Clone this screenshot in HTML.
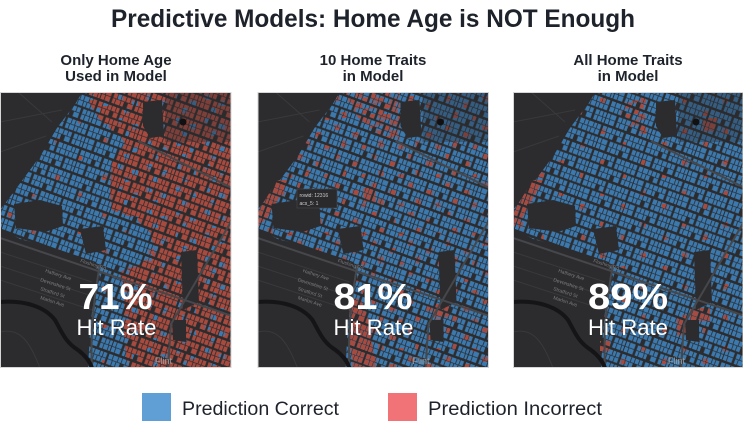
<!DOCTYPE html>
<html><head><meta charset="utf-8">
<style>
html,body{margin:0;padding:0;background:#fff;}
svg{display:block;font-family:"Liberation Sans",sans-serif;}
</style></head>
<body>
<svg width="743" height="424" viewBox="0 0 743 424" xmlns="http://www.w3.org/2000/svg">
<defs>
  <g id="houses">
    <!-- block A row 1 -->
    <rect x=".5" y=".5" width="4" height="5"/><rect x="5.3" y=".5" width="4.7" height="5"/>
    <rect x="10.8" y=".5" width="3.2" height="5"/><rect x="14.8" y=".5" width="3.7" height="5"/>
    <rect x="19.3" y=".5" width="3" height="5"/><rect x="24.8" y=".5" width="4.2" height="5"/>
    <rect x="29.8" y=".5" width="3.2" height="5"/><rect x="33.8" y=".5" width="4.7" height="5"/>
    <rect x="39.3" y=".5" width="2.7" height="5"/><rect x="42.8" y=".5" width="3.5" height="5"/>
    <!-- block A row 2 -->
    <rect x=".5" y="6.2" width="4.5" height="5"/><rect x="5.8" y="6.2" width="3.2" height="5"/>
    <rect x="9.8" y="6.2" width="3.7" height="5"/><rect x="17.8" y="6.2" width="4.5" height="5"/>
    <rect x="24.8" y="6.2" width="3.2" height="5"/><rect x="28.8" y="6.2" width="4.7" height="5"/>
    <rect x="34.3" y="6.2" width="2.7" height="5"/><rect x="37.8" y="6.2" width="3.7" height="5"/>
    <rect x="42.3" y="6.2" width="4" height="5"/>
    <!-- block B row 1 -->
    <rect x=".5" y="13.3" width="3" height="5"/><rect x="4.3" y="13.3" width="5.5" height="5"/>
    <rect x="12.3" y="13.3" width="3.7" height="5"/><rect x="16.8" y="13.3" width="3.2" height="5"/>
    <rect x="20.8" y="13.3" width="4.2" height="5"/><rect x="25.8" y="13.3" width="3.7" height="5"/>
    <rect x="30.3" y="13.3" width="3.5" height="5"/><rect x="36.3" y="13.3" width="3.7" height="5"/>
    <rect x="40.8" y="13.3" width="3.2" height="5"/><rect x="44.8" y="13.3" width="2.7" height="5"/>
    <!-- block B row 2 -->
    <rect x=".5" y="19" width="3.5" height="5"/><rect x="4.8" y="19" width="5" height="5"/>
    <rect x="12.3" y="19" width="2.7" height="5"/><rect x="15.8" y="19" width="4.7" height="5"/>
    <rect x="21.3" y="19" width="2.7" height="5"/><rect x="28.3" y="19" width="5.5" height="5"/>
    <rect x="36.3" y="19" width="3.2" height="5"/><rect x="40.3" y="19" width="4.2" height="5"/>
    <rect x="45.3" y="19" width="2.2" height="5"/>
  </g>
  <pattern id="pb" width="48" height="26" patternUnits="userSpaceOnUse" patternTransform="rotate(20)">
    <use href="#houses" fill="#3b79ae"/>
  </pattern>
  <pattern id="pr" width="48" height="26" patternUnits="userSpaceOnUse" patternTransform="rotate(20)">
    <use href="#houses" fill="#a94a3f"/>
  </pattern>
  <!-- mask dot patterns -->
  <pattern id="md10" width="37" height="29" patternUnits="userSpaceOnUse">
    <g fill="#fff"><rect x="3" y="4" width="5" height="5"/><rect x="21" y="11" width="6" height="5"/>
    <rect x="10" y="20" width="5" height="6"/><rect x="30" y="24" width="5" height="4"/></g>
  </pattern>
  <pattern id="md5" width="41" height="31" patternUnits="userSpaceOnUse">
    <g fill="#fff"><rect x="5" y="6" width="5" height="5"/><rect x="26" y="19" width="5" height="5"/></g>
  </pattern>
  <pattern id="md3" width="47" height="37" patternUnits="userSpaceOnUse">
    <g fill="#fff"><rect x="8" y="9" width="5" height="5"/><rect x="31" y="27" width="4" height="4"/></g>
  </pattern>
  <pattern id="md50" width="14" height="11" patternUnits="userSpaceOnUse">
    <g fill="#fff"><rect x="0" y="0" width="7" height="5.5"/><rect x="7" y="5.5" width="7" height="5.5"/></g>
  </pattern>
  <pattern id="md15" width="29" height="23" patternUnits="userSpaceOnUse">
    <g fill="#fff"><rect x="2" y="3" width="5" height="5"/><rect x="16" y="9" width="6" height="5"/>
    <rect x="8" y="16" width="5" height="5"/></g>
  </pattern>
  <mask id="m10" maskUnits="userSpaceOnUse" x="0" y="0" width="240" height="280"><rect width="240" height="280" fill="url(#md10)"/></mask>
  <mask id="m5" maskUnits="userSpaceOnUse" x="0" y="0" width="240" height="280"><rect width="240" height="280" fill="url(#md5)"/></mask>
  <mask id="m3" maskUnits="userSpaceOnUse" x="0" y="0" width="240" height="280"><rect width="240" height="280" fill="url(#md3)"/></mask>
  <mask id="m50" maskUnits="userSpaceOnUse" x="0" y="0" width="240" height="280"><rect width="240" height="280" fill="url(#md50)"/></mask>
  <mask id="m15" maskUnits="userSpaceOnUse" x="0" y="0" width="240" height="280"><rect width="240" height="280" fill="url(#md15)"/></mask>

  <polygon id="regionShape" points="74,14 80,4 86,0 232,0 232,276 88,276 90,240 93,210 100,185 96,170 60,158 20,147 0,136 0,118 10,105 24,86 41,63 57,36 66,24"/>
  <polygon id="red1" points="88,0 232,0 232,276 127,276 124,240 124,205 120,180 140,172 156,160 150,140 135,126 112,118 110,100 112,70 125,52 122,46 100,28 90,12"/>

  <g id="under">
    <rect x="0" y="0" width="232" height="276" fill="#2c2c2e"/>
    <use href="#regionShape" fill="url(#pb)"/>
  </g>
  <g id="over">
    <g fill="#2c2c2e">
      <polygon points="14,112 40,108 62,114 63,134 45,140 16,136"/>
      <polygon points="80,137 103,134 106,158 86,162"/>
      <polygon points="143,10 162,8 164,44 150,46 143,34"/>
      <polygon points="181,160 197,158 199,210 183,218"/>
      <polygon points="172,228 186,228 186,250 173,248"/>
    </g>
    <rect x="165" y="0" width="67" height="50" fill="#2c2c2e" opacity=".35"/>
    <circle cx="183" cy="30" r="3.5" fill="#111"/>
    <g stroke="#38393c" stroke-width="1" fill="none">
      <path d="M0,30 L62,18"/><path d="M0,60 L46,44"/><path d="M18,0 L52,30"/>
      <path d="M0,160 L92,190"/><path d="M0,174 L92,204"/><path d="M0,188 L92,218"/>
      <path d="M0,240 C20,235 30,250 40,276"/>
    </g>
    <g stroke="#46474b" stroke-width="2" fill="none">
      <path d="M0,146 L232,224"/>
      <path d="M138,49 L232,96"/>
      <path d="M232,128 L171,232 L168,276"/>
      <path d="M100,172 C95,200 90,235 92,276"/>
    </g>
    <path d="M0,210 C25,208 45,215 55,228 C62,240 65,250 78,258 C86,264 90,270 92,276" stroke="#151517" stroke-width="4" fill="none"/>
    <g fill="#7a7b7f" font-size="5">
      <text x="80" y="170" transform="rotate(18 80 170)">Flushing Rd</text>
      <text x="45" y="180" transform="rotate(18 45 180)">Hathery Ave</text>
      <text x="40" y="189" transform="rotate(18 40 189)">Devonshire St</text>
      <text x="40" y="198" transform="rotate(18 40 198)">Stratford St</text>
      <text x="40" y="207" transform="rotate(18 40 207)">Marlon Ave</text>
    </g>
    <text x="155" y="272" fill="#9a9b9f" font-size="9">Flint</text>
  </g>
  <clipPath id="c1"><rect x="0" y="0" width="231.5" height="276"/></clipPath>
  <clipPath id="c2"><rect x="0" y="0" width="231.5" height="276"/></clipPath>
  <clipPath id="c3"><rect x="0" y="0" width="230" height="276"/></clipPath>
</defs>

<text x="373" y="27" text-anchor="middle" font-size="25" font-weight="bold" fill="#1e232b" textLength="524" lengthAdjust="spacingAndGlyphs">Predictive Models: Home Age is NOT Enough</text>

<g font-size="15" font-weight="bold" fill="#1e232b" text-anchor="middle">
  <text x="116" y="65">Only Home Age</text>
  <text x="116" y="81">Used in Model</text>
  <text x="373" y="65">10 Home Traits</text>
  <text x="373" y="81">in Model</text>
  <text x="628" y="65">All Home Traits</text>
  <text x="628" y="81">in Model</text>
</g>

<!-- Panel 1 -->
<g transform="translate(0,92)" clip-path="url(#c1)">
  <use href="#under"/>
  <g mask="url(#m3)"><use href="#regionShape" fill="url(#pr)"/></g>
  <use href="#red1" fill="#2c2c2e"/>
  <use href="#red1" fill="url(#pr)"/>
  <g mask="url(#m15)"><g clip-path="url(#c1)"><use href="#red1" fill="url(#pb)"/></g></g>
  <use href="#over"/>
  <text x="115.5" y="217" text-anchor="middle" font-size="36" font-weight="bold" fill="#fff" textLength="74" lengthAdjust="spacingAndGlyphs">71%</text>
  <text x="116.5" y="243" text-anchor="middle" font-size="22" fill="#fff" textLength="80" lengthAdjust="spacingAndGlyphs">Hit Rate</text>
  <rect x=".5" y=".5" width="230.5" height="275" fill="none" stroke="#d6d6d6" stroke-width="1"/>
</g>

<!-- Panel 2 -->
<g transform="translate(257.5,92)" clip-path="url(#c2)">
  <use href="#under"/>
  <g mask="url(#m10)"><use href="#regionShape" fill="url(#pr)"/></g>
  <g mask="url(#m50)"><polygon points="86,0 142,0 142,48 125,45 100,25" fill="url(#pr)"/></g>
  <polygon points="20,88 32,88 10,125 0,135 0,120" fill="url(#pr)"/>
  <polygon points="106,96 118,96 118,110 106,110" fill="url(#pr)"/>
  <polygon points="92,205 104,208 112,230 118,276 96,276 92,250" fill="url(#pr)"/>
  <polygon points="176,212 192,212 192,225 176,225" fill="url(#pr)"/>
  <use href="#over"/>
  <rect x="39.5" y="97" width="40" height="19" fill="#2a2a2c" stroke="#4a4a4e" stroke-width=".6"/>
  <text x="42" y="105" font-size="5" fill="#cfcfd2">rowid: 12316</text>
  <text x="42" y="113" font-size="5" fill="#cfcfd2">acs_5: 1</text>
  <text x="115.5" y="217" text-anchor="middle" font-size="36" font-weight="bold" fill="#fff" textLength="79" lengthAdjust="spacingAndGlyphs">81%</text>
  <text x="116" y="243" text-anchor="middle" font-size="22" fill="#fff" textLength="80" lengthAdjust="spacingAndGlyphs">Hit Rate</text>
  <rect x=".5" y=".5" width="230.5" height="275" fill="none" stroke="#d6d6d6" stroke-width="1"/>
</g>

<!-- Panel 3 -->
<g transform="translate(513,92)" clip-path="url(#c3)">
  <use href="#under"/>
  <g mask="url(#m5)"><use href="#regionShape" fill="url(#pr)"/></g>
  <polygon points="20,88 30,88 8,128 0,135 0,120" fill="url(#pr)"/>
  <g mask="url(#m50)"><polygon points="110,8 130,8 134,40 115,35" fill="url(#pr)"/></g>
  <polygon points="177,216 197,216 197,229 177,229" fill="url(#pr)"/>
  <polygon points="164,226 174,226 174,243 164,243" fill="url(#pr)"/>
  <polygon points="87,249 97,249 97,259 87,259" fill="url(#pr)"/>
  <polygon points="190,26 204,26 204,39 190,39" fill="url(#pr)"/>
  <use href="#over"/>
  <text x="115" y="217" text-anchor="middle" font-size="36" font-weight="bold" fill="#fff" textLength="80" lengthAdjust="spacingAndGlyphs">89%</text>
  <text x="115" y="243" text-anchor="middle" font-size="22" fill="#fff" textLength="80" lengthAdjust="spacingAndGlyphs">Hit Rate</text>
  <rect x=".5" y=".5" width="229.5" height="275" fill="none" stroke="#d6d6d6" stroke-width="1"/>
</g>

<rect x="142" y="393" width="29" height="28" fill="#5f9fd6"/>
<text x="182" y="415" font-size="19" fill="#1e232b" textLength="157" lengthAdjust="spacingAndGlyphs">Prediction Correct</text>
<rect x="388" y="393" width="29" height="28" fill="#f17378"/>
<text x="428" y="415" font-size="19" fill="#1e232b" textLength="174" lengthAdjust="spacingAndGlyphs">Prediction Incorrect</text>
</svg>
</body></html>
